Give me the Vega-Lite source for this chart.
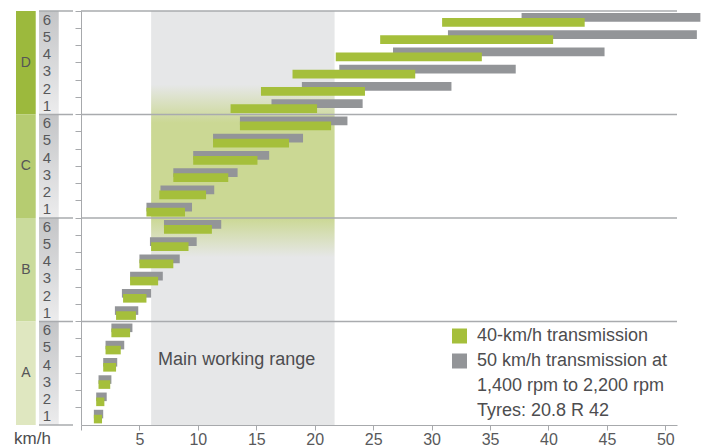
{
  "$schema": "https://vega.github.io/schema/vega-lite/v6.json",
  "padding": {"left": 14, "top": 10, "right": 0, "bottom": 0},
  "spacing": 0,
  "config": {"font": "Liberation Sans", "view": {"stroke": null}},
  "datasets": {
    "groups": [{"group": "D"}, {"group": "C"}, {"group": "B"}, {"group": "A"}],
    "bars": [
      {"row": "D6", "group": "D", "gear": 6, "series": "50", "lo": 37.7, "hi": 53.0},
      {"row": "D6", "group": "D", "gear": 6, "series": "40", "lo": 30.9, "hi": 43.1},
      {"row": "D5", "group": "D", "gear": 5, "series": "50", "lo": 31.4, "hi": 52.7},
      {"row": "D5", "group": "D", "gear": 5, "series": "40", "lo": 25.6, "hi": 40.4},
      {"row": "D4", "group": "D", "gear": 4, "series": "50", "lo": 26.7, "hi": 44.8},
      {"row": "D4", "group": "D", "gear": 4, "series": "40", "lo": 21.8, "hi": 34.3},
      {"row": "D3", "group": "D", "gear": 3, "series": "50", "lo": 22.1, "hi": 37.2},
      {"row": "D3", "group": "D", "gear": 3, "series": "40", "lo": 18.1, "hi": 28.6},
      {"row": "D2", "group": "D", "gear": 2, "series": "50", "lo": 18.9, "hi": 31.7},
      {"row": "D2", "group": "D", "gear": 2, "series": "40", "lo": 15.4, "hi": 24.3},
      {"row": "D1", "group": "D", "gear": 1, "series": "50", "lo": 16.3, "hi": 24.1},
      {"row": "D1", "group": "D", "gear": 1, "series": "40", "lo": 12.8, "hi": 20.2},
      {"row": "C6", "group": "C", "gear": 6, "series": "50", "lo": 13.6, "hi": 22.8},
      {"row": "C6", "group": "C", "gear": 6, "series": "40", "lo": 13.6, "hi": 21.4},
      {"row": "C5", "group": "C", "gear": 5, "series": "50", "lo": 11.3, "hi": 19.0},
      {"row": "C5", "group": "C", "gear": 5, "series": "40", "lo": 11.3, "hi": 17.8},
      {"row": "C4", "group": "C", "gear": 4, "series": "50", "lo": 9.6, "hi": 16.1},
      {"row": "C4", "group": "C", "gear": 4, "series": "40", "lo": 9.6, "hi": 15.1},
      {"row": "C3", "group": "C", "gear": 3, "series": "50", "lo": 7.9, "hi": 13.4},
      {"row": "C3", "group": "C", "gear": 3, "series": "40", "lo": 7.9, "hi": 12.6},
      {"row": "C2", "group": "C", "gear": 2, "series": "50", "lo": 6.8, "hi": 11.4},
      {"row": "C2", "group": "C", "gear": 2, "series": "40", "lo": 6.7, "hi": 10.7},
      {"row": "C1", "group": "C", "gear": 1, "series": "50", "lo": 5.6, "hi": 9.5},
      {"row": "C1", "group": "C", "gear": 1, "series": "40", "lo": 5.6, "hi": 8.9},
      {"row": "B6", "group": "B", "gear": 6, "series": "50", "lo": 7.1, "hi": 12.0},
      {"row": "B6", "group": "B", "gear": 6, "series": "40", "lo": 7.1, "hi": 11.2},
      {"row": "B5", "group": "B", "gear": 5, "series": "50", "lo": 5.9, "hi": 9.9},
      {"row": "B5", "group": "B", "gear": 5, "series": "40", "lo": 6.0, "hi": 9.2},
      {"row": "B4", "group": "B", "gear": 4, "series": "50", "lo": 5.0, "hi": 8.45},
      {"row": "B4", "group": "B", "gear": 4, "series": "40", "lo": 5.0, "hi": 7.9},
      {"row": "B3", "group": "B", "gear": 3, "series": "50", "lo": 4.2, "hi": 7.0},
      {"row": "B3", "group": "B", "gear": 3, "series": "40", "lo": 4.2, "hi": 6.6},
      {"row": "B2", "group": "B", "gear": 2, "series": "50", "lo": 3.5, "hi": 6.0},
      {"row": "B2", "group": "B", "gear": 2, "series": "40", "lo": 3.6, "hi": 5.6},
      {"row": "B1", "group": "B", "gear": 1, "series": "50", "lo": 2.9, "hi": 4.9},
      {"row": "B1", "group": "B", "gear": 1, "series": "40", "lo": 3.0, "hi": 4.7},
      {"row": "A6", "group": "A", "gear": 6, "series": "50", "lo": 2.6, "hi": 4.4},
      {"row": "A6", "group": "A", "gear": 6, "series": "40", "lo": 2.6, "hi": 4.2},
      {"row": "A5", "group": "A", "gear": 5, "series": "50", "lo": 2.1, "hi": 3.7},
      {"row": "A5", "group": "A", "gear": 5, "series": "40", "lo": 2.1, "hi": 3.4},
      {"row": "A4", "group": "A", "gear": 4, "series": "50", "lo": 1.9, "hi": 3.1},
      {"row": "A4", "group": "A", "gear": 4, "series": "40", "lo": 1.9, "hi": 3.0},
      {"row": "A3", "group": "A", "gear": 3, "series": "50", "lo": 1.5, "hi": 2.6},
      {"row": "A3", "group": "A", "gear": 3, "series": "40", "lo": 1.5, "hi": 2.5},
      {"row": "A2", "group": "A", "gear": 2, "series": "50", "lo": 1.3, "hi": 2.2},
      {"row": "A2", "group": "A", "gear": 2, "series": "40", "lo": 1.3, "hi": 2.0},
      {"row": "A1", "group": "A", "gear": 1, "series": "50", "lo": 1.1, "hi": 1.9},
      {"row": "A1", "group": "A", "gear": 1, "series": "40", "lo": 1.1, "hi": 1.8}
    ]
  },
  "hconcat": [
    {
      "width": 57,
      "height": 414,
      "resolve": {"scale": {"y": "independent"}},
      "layer": [
        {
          "data": {"name": "groups"},
          "mark": {"type": "rect"},
          "encoding": {
            "x": {"datum": "group", "type": "nominal", "axis": null,
                  "scale": {"domain": ["group", "gear"], "paddingInner": 0.143, "paddingOuter": 0.31, "align": 0}},
            "y": {"field": "group", "type": "nominal", "axis": null,
                  "scale": {"domain": ["D", "C", "B", "A"], "paddingInner": 0, "paddingOuter": 0}},
            "fill": {"field": "group", "type": "nominal", "legend": null,
                     "scale": {"domain": ["D", "C", "B", "A"], "range": ["#9cb93d", "#b6cc71", "#cadb9c", "#dfe7c0"]}}
          }
        },
        {
          "data": {"name": "groups"},
          "mark": {"type": "rect", "color": {"gradient": "linear", "x1": 0, "y1": 0, "x2": 0, "y2": 1,
                   "stops": [{"offset": 0, "color": "#c4c5c7"}, {"offset": 1, "color": "#ececed"}]}},
          "encoding": {
            "x": {"datum": "gear", "type": "nominal", "axis": null},
            "y": {"field": "group", "type": "nominal", "axis": null,
                  "scale": {"domain": ["D", "C", "B", "A"], "paddingInner": 0, "paddingOuter": 0}}
          }
        },
        {
          "data": {"name": "groups"},
          "mark": {"type": "text", "fontSize": 14, "color": "#555557"},
          "encoding": {
            "x": {"datum": "group", "type": "nominal", "axis": null},
            "y": {"field": "group", "type": "nominal", "axis": null,
                  "scale": {"domain": ["D", "C", "B", "A"], "paddingInner": 0, "paddingOuter": 0}},
            "text": {"field": "group"}
          }
        },
        {
          "data": {"name": "bars"},
          "transform": [{"filter": "datum.series == '40'"}],
          "mark": {"type": "text", "fontSize": 15, "color": "#58595b", "dx": -2},
          "encoding": {
            "x": {"datum": "gear", "type": "nominal", "axis": null},
            "y": {"field": "row", "type": "nominal", "axis": null,
                  "scale": {"domain": ["D6","D5","D4","D3","D2","D1","C6","C5","C4","C3","C2","C1","B6","B5","B4","B3","B2","B1","A6","A5","A4","A3","A2","A1"],
                            "paddingInner": 0, "paddingOuter": 0}},
            "text": {"field": "gear"}
          }
        },
        {
          "data": {"name": "groups"},
          "mark": {"type": "rule", "color": "#a9abae", "strokeWidth": 1.3},
          "encoding": {
            "x": {"datum": "gear", "type": "nominal", "bandPosition": 0, "axis": null},
            "x2": {"value": "width"},
            "y": {"field": "group", "type": "nominal", "bandPosition": 0, "axis": null,
                  "scale": {"domain": ["D", "C", "B", "A"], "paddingInner": 0, "paddingOuter": 0}}
          }
        },
        {
          "data": {"values": [{}]},
          "mark": {"type": "rule", "color": "#a9abae", "strokeWidth": 1.3},
          "encoding": {
            "x": {"datum": "gear", "type": "nominal", "bandPosition": 0, "axis": null},
            "x2": {"value": "width"},
            "y": {"value": "height"}
          }
        },
        {
          "data": {"values": [{}]},
          "mark": {"type": "text", "text": "km/h", "fontSize": 17, "align": "left", "baseline": "alphabetic",
                   "dx": -11.85, "dy": 19, "color": "#4d4d4f"},
          "encoding": {
            "x": {"datum": "group", "type": "nominal", "axis": null},
            "y": {"value": "height"}
          }
        }
      ]
    },
    {
      "width": 596,
      "height": 414,
      "data": {"name": "bars"},
      "layer": [
        {
          "data": {"values": [{}]},
          "mark": {"type": "rect", "color": {"gradient": "linear", "x1": 0, "y1": 0, "x2": 0, "y2": 1,
                   "stops": [
                     {"offset": 0, "color": "#e6e7e8"},
                     {"offset": 0.178, "color": "#e6e7e8"},
                     {"offset": 0.27, "color": "#cbd894"},
                     {"offset": 0.5, "color": "#cbd894"},
                     {"offset": 0.595, "color": "#e6e7e8"},
                     {"offset": 1, "color": "#e6e7e8"}]}},
          "encoding": {
            "x": {"datum": 6, "type": "quantitative", "title": null,
                  "scale": {"domain": [0, 51], "nice": false, "zero": true},
                  "axis": {"values": [0, 5, 10, 15, 20, 25, 30, 35, 40, 45, 50],
                           "labelExpr": "datum.value == 0 ? '' : datum.label",
                           "tickSize": 5, "labelPadding": 1, "labelFontSize": 16, "labelColor": "#58595b",
                           "domainColor": "#a7a9ac", "tickColor": "#a7a9ac", "grid": false, "title": null,
                           "labelFlush": false}},
            "x2": {"datum": 21.7}
          }
        },
        {
          "transform": [{"filter": "datum.gear == 6 && datum.series == '40'"}],
          "mark": {"type": "rule", "color": "#a9abae", "strokeWidth": 1.3},
          "encoding": {
            "x": {"datum": 0, "type": "quantitative", "title": null},
            "x2": {"datum": 51},
            "y": {"field": "row", "type": "nominal", "bandPosition": 0, "title": null}
          }
        },
        {
          "transform": [{"filter": "datum.series == '50'"}],
          "mark": {"type": "bar", "height": 8.6, "yOffset": -2.3},
          "encoding": {
            "x": {"field": "lo", "type": "quantitative", "title": null},
            "x2": {"field": "hi"},
            "y": {"field": "row", "type": "nominal", "title": null,
                  "scale": {"domain": ["D6","D5","D4","D3","D2","D1","C6","C5","C4","C3","C2","C1","B6","B5","B4","B3","B2","B1","A6","A5","A4","A3","A2","A1"],
                            "paddingInner": 0, "paddingOuter": 0},
                  "axis": {"labels": false, "tickSize": 6, "bandPosition": 0, "domainColor": "#a7a9ac",
                           "tickColor": "#a7a9ac", "title": null, "grid": false}},
            "color": {"datum": "50 km/h transmission at", "type": "nominal",
                      "scale": {"domain": ["40-km/h transmission", "50 km/h transmission at", "1,400 rpm to 2,200 rpm", "Tyres: 20.8 R 42"],
                                "range": ["#a5bf3b", "#939598", "transparent", "transparent"]},
                      "legend": {"orient": "none", "legendX": 369.5, "legendY": 316, "title": null,
                                 "symbolType": "square", "symbolSize": 225, "symbolStrokeWidth": 0,
                                 "labelFontSize": 18, "labelColor": "#4d4d4f", "labelOffset": 8.5,
                                 "rowPadding": 7, "padding": 0, "labelLimit": 0}}
          }
        },
        {
          "transform": [{"filter": "datum.series == '40'"}],
          "mark": {"type": "bar", "height": 8.6, "yOffset": 2.7},
          "encoding": {
            "x": {"field": "lo", "type": "quantitative", "title": null},
            "x2": {"field": "hi"},
            "y": {"field": "row", "type": "nominal", "title": null},
            "color": {"datum": "40-km/h transmission", "type": "nominal"}
          }
        },
        {
          "data": {"values": [{}]},
          "mark": {"type": "text", "text": "Main working range", "fontSize": 18, "align": "left",
                   "baseline": "alphabetic", "dx": 7, "color": "#4d4d4f"},
          "encoding": {
            "x": {"datum": 6, "type": "quantitative"},
            "y": {"datum": "A4", "type": "nominal"}
          }
        }
      ]
    }
  ],
  "resolve": {"legend": {"color": "independent"}}
}
